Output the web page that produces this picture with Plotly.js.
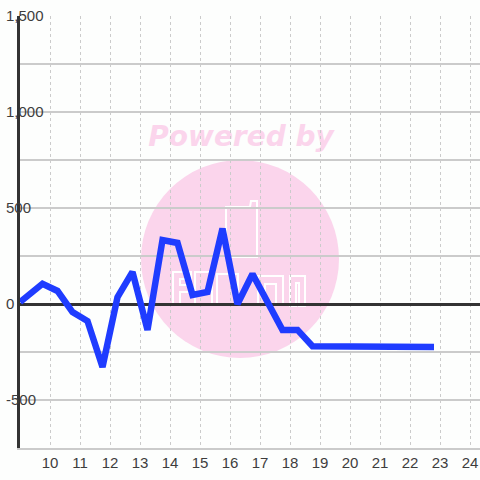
<!DOCTYPE html>
<html>
<head>
<meta charset="utf-8">
<script src="https://cdn.plot.ly/plotly-3.0.1.min.js"></script>
<style>
html,body{margin:0;padding:0;background:#fdfefd;}
#chart{width:480px;height:480px;}
.scatterlayer .js-line{stroke-linejoin:miter !important;}
</style>
</head>
<body>
<div id="chart"></div>
<script>
// ---- data ----
const hours = [9.0, 9.75, 10.25, 10.75, 11.25, 11.75, 12.25, 12.75, 13.25, 13.75, 14.25, 14.75, 15.25, 15.75, 16.25, 16.75, 17.75, 18.25, 18.75, 22.8];
const values = [10, 105, 68, -42, -89, -328, 36, 167, -135, 333, 318, 47, 63, 393, 0, 156, -135, -135, -220, -224];
const xTickVals = [10, 11, 12, 13, 14, 15, 16, 17, 18, 19, 20, 21, 22, 23, 24];
const yTickVals = [-750, -500, -250, 0, 250, 500, 750, 1000, 1250, 1500];
const yTickText = ['', '-500', '', '0', '', '500', '', '1,000', '', '1,500'];
const watermarkText = 'Powered by';

// ---- layout helpers (pixel -> axis coords for decoration only) ----
const X0 = 9, PX0 = 20, PXU = 30;
function dx(px){ return X0 + (px - PX0) / PXU; }
function dy(py){ return (304 - py) * 500 / 96; }
function path(pts){ return pts.map((p,i)=> (i? 'L':'M') + dx(p[0]) + ',' + dy(p[1])).join(' ') + ' Z'; }

const pink = '#fbd5ec';
const grid = 'rgb(203,203,203)';
const logo = {type:'path', xref:'x', yref:'y', layer:'below', line:{color:'#ffffff', width:2}, fillcolor:'rgba(0,0,0,0)'};

const shapes = [
  {type:'circle', xref:'x', yref:'y', layer:'below', x0:dx(141), x1:dx(339), y0:dy(358), y1:dy(160), fillcolor:pink, line:{width:0}},
  {type:'rect', xref:'x', yref:'y', layer:'below', x0:dx(140), x1:dx(342), y0:dy(150), y1:dy(118), fillcolor:'rgba(0,0,0,0)', line:{width:0},
   label:{text:watermarkText, textposition:'middle center', font:{family:'DejaVu Sans', size:28, color:pink, weight:'bold', style:'italic'}}},
  Object.assign({}, logo, {path: path([[226,257],[226,207],[250,207],[251,201],[257,201],[257,257]])}),
  Object.assign({}, logo, {path: path([[173,304],[173,272],[191,272],[191,279],[180,279],[180,285],[189,285],[189,292],[180,292],[180,304]])}),
  Object.assign({}, logo, {path: path([[195,304],[195,272],[212,272],[212,304]])}),
  Object.assign({}, logo, {path: path([[217,304],[217,274],[238,274],[238,304]])}),
  Object.assign({}, logo, {path: path([[258,304],[258,276],[283,276],[283,304],[276,304],[276,284],[265,284],[265,304]])}),
  Object.assign({}, logo, {path: path([[290,306],[290,276],[305,276],[305,306],[299,306],[299,283],[296,283],[296,306]])})
];

const trace = {
  x: hours, y: values, type:'scatter', mode:'lines',
  line:{color:'#1f3cff', width:6.5, shape:'linear'},
  hoverinfo:'skip'
};

const layout = {
  width:480, height:480,
  margin:{l:20, r:0, t:16, b:32, pad:0},
  paper_bgcolor:'#fdfefd', plot_bgcolor:'#fdfefd',
  showlegend:false,
  font:{family:'Liberation Sans, Arial, sans-serif', size:15, color:'#3d3d3d'},
  xaxis:{
    range:[9, 9 + 460/30], tickmode:'array', tickvals:xTickVals,
    showgrid:true, gridcolor:grid, gridwidth:1, griddash:'dot',
    zeroline:false, showline:true, linecolor:grid, linewidth:1.5,
    ticks:'', tickfont:{size:15, color:'#3d3d3d'}, fixedrange:true
  },
  yaxis:{
    range:[-750, 1500], tickmode:'array', tickvals:yTickVals, ticktext:yTickText,
    showgrid:true, gridcolor:grid, gridwidth:1.3,
    zeroline:true, zerolinecolor:'#333333', zerolinewidth:3,
    showline:true, linecolor:'#333333', linewidth:3,
    ticks:'', ticklabelposition:'inside', ticklabeloverflow:'allow', ticklabelstandoff:-14,
    tickfont:{size:15, color:'#3d3d3d'}, fixedrange:true
  },
  shapes: shapes
};

Plotly.newPlot('chart', [trace], layout, {displayModeBar:false, staticPlot:true});
</script>
</body>
</html>
